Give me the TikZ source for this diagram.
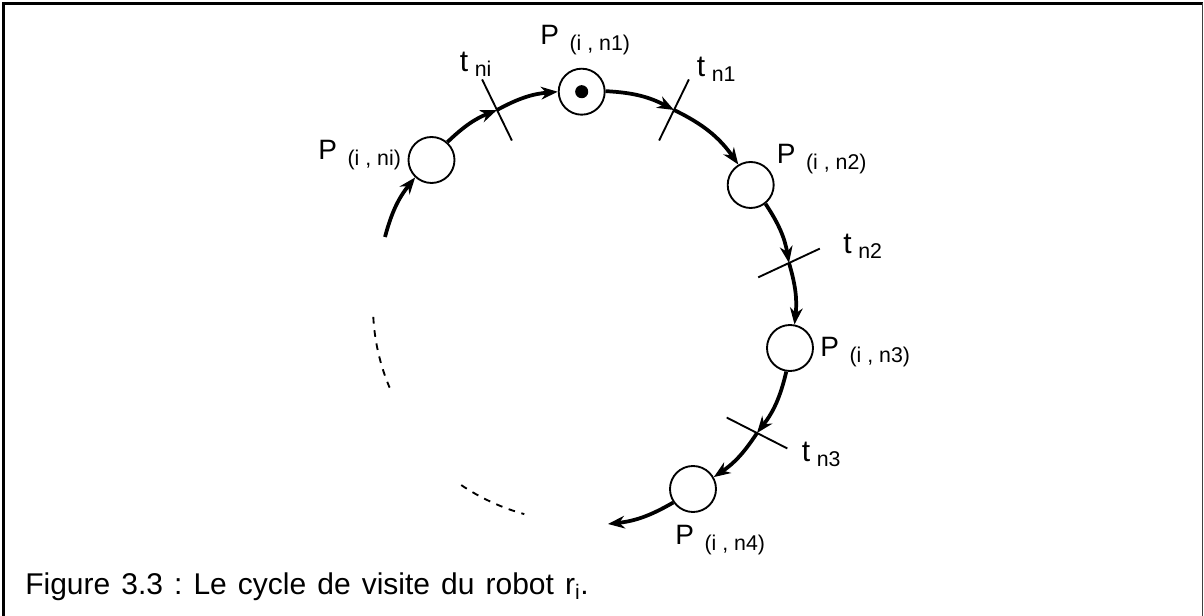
\documentclass[tikz,border=0pt]{standalone}
\usepackage{fontspec}
\setmainfont{Liberation Sans}
\usetikzlibrary{arrows.meta}
\newcommand{\Plbl}[1]{{\fontsize{21pt}{22pt}\selectfont P}\hspace{8pt}\raisebox{-4.5pt}{\fontsize{16pt}{16pt}\selectfont #1}}
\newcommand{\Tlbl}[1]{{\fontsize{22.5pt}{23pt}\selectfont t}\hspace{5pt}\raisebox{-3.6pt}{\fontsize{16pt}{16pt}\selectfont #1}}
\frenchspacing
\begin{document}
\begin{tikzpicture}[x=0.75pt,y=0.75pt,
  place/.style={circle,draw,line width=1.4pt,minimum size=34.5pt,inner sep=0pt},
  trans/.style={draw,line width=1.4pt,rectangle,minimum width=51pt,minimum height=0pt,inner sep=0pt},
  flow/.style={line width=2.8pt,-{Stealth[length=12.5pt,width=9.5pt,inset=4pt]}},
  gap/.style={line width=1.4pt,dash pattern=on 5pt off 5pt},
  lbl/.style={anchor=base west,inner sep=0pt},
  frame/.style={line width=2.2pt}]
\useasboundingbox (0,0) rectangle (1204,616);
% frame
\draw[frame] (3.5,0) -- (3.5,612.5) -- (1203,612.5);
\draw[line width=1.1pt,black!75] (1202.5,612.5) -- (1202.5,0);
% centre of the cycle
\coordinate (ctr) at (582,310);
% places
\node[place] (ni) at (431.5,456) {};
\node[place] (n1) at (581.7,524.3) {};
\node[place] (n2) at (750.7,431) {};
\node[place] (n3) at (790,268) {};
\node[place] (n4) at (693,127) {};
\fill (n1.center) circle[radius=4.9pt];
% transitions
\node[trans,rotate=116] (tni) at (497,506) {};
\node[trans,rotate=64] (tn1) at (674,506) {};
\node[trans,rotate=25] (tn2) at (789,353) {};
\node[trans,rotate=-27] (tn3) at (757,183) {};
% free ends
\coordinate (startpt) at (385,379);
\coordinate (endpt) at (608,92);
% arcs
\draw[flow] (startpt) to[bend left=12] (ni);
\draw[flow] (ni) to[bend left=11] (tni.center);
\draw[flow] (tni.center) to[bend left=12] (n1);
\draw[flow] (n1) to[bend left=12.5] (tn1.center);
\draw[flow] (tn1.center) to[bend left=14.5] (n2);
\draw[flow] (n2) to[bend left=12] (tn2.center);
\draw[flow] (tn2.center) to[bend left=11.5] (n3);
\draw[flow] (n3) to[bend left=12.3] (tn3.center);
\draw[flow] (tn3.center) to[bend left=11.4] (n4);
\draw[flow] (n4) to[bend left=12] (endpt);
% dashed gaps
\draw[gap] ([shift={(183:156.75pt)}]ctr) arc[start angle=183,end angle=203,radius=156.75pt];
\draw[gap] ([shift={(236:162pt)}]ctr) arc[start angle=236,end angle=254.5,radius=162pt];
% labels
\node[lbl] (Lni) at (318,456) {\Plbl{(i , ni)}};
\node[lbl] (Ln1) at (540,571) {\Plbl{(i , n1)}};
\node[lbl] (Ln2) at (776.5,452.7) {\Plbl{(i , n2)}};
\node[lbl] (Ln3) at (820,259.3) {\Plbl{(i , n3)}};
\node[lbl] (Ln4) at (675,71) {\Plbl{(i , n4)}};
\node[lbl] (Ltni) at (459.5,544.3) {\Tlbl{ni}};
\node[lbl] (Ltn1) at (696.5,539.3) {\Tlbl{n1}};
\node[lbl] (Ltn2) at (843,362) {\Tlbl{n2}};
\node[lbl] (Ltn3) at (801.5,154.3) {\Tlbl{n3}};
\node[anchor=base west,inner sep=0pt,font=\fontsize{22.5pt}{24pt}\selectfont] (cap) at (25,21.7) {\spaceskip=8.3pt Figure 3.3 : Le cycle de visite du robot r\textsubscript{i}.};
\end{tikzpicture}
\end{document}
